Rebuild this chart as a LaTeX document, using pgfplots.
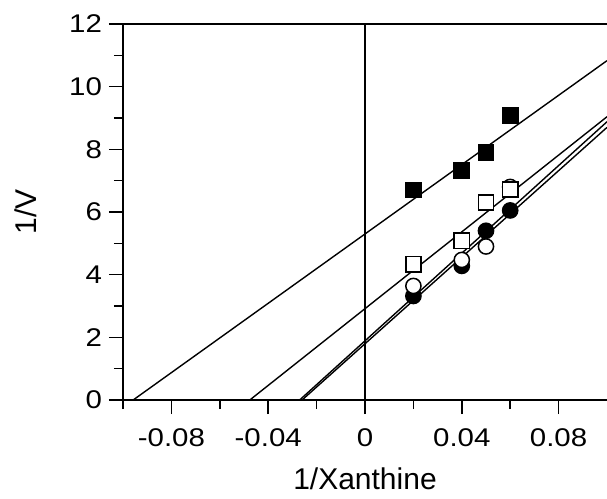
\documentclass[border=0pt]{standalone}
\usepackage{fontspec}
\setmainfont{Liberation Sans}
\newfontfamily\wide[FakeStretch=1.15]{Liberation Sans}
\usepackage{pgfplots}
\pgfplotsset{compat=1.18}

\begin{document}
\begin{tikzpicture}
\useasboundingbox (-61.5pt,-49.5pt) rectangle (242pt,200pt);

\begin{axis}[
  at={(0,0)}, anchor=south west,
  width=242pt, height=188pt,
  scale only axis,
  xmin=-0.1, xmax=0.1,
  ymin=0, ymax=12,
  axis x line*=bottom,
  axis y line*=left,
  axis line style={line width=0.75pt},
  every tick/.style={black, line width=0.75pt},
  tick align=outside,
  major tick length=7pt,
  minor tick length=4.5pt,
  xtick={-0.08,-0.04,0,0.04,0.08},
  xticklabels={-0.08,-0.04,0,0.04,0.08},
  minor xtick={-0.1,-0.06,-0.02,0.02,0.06},
  ytick={0,2,4,6,8,10,12},
  minor ytick={1,3,5,7,9,11},
  /pgf/number format/assume math mode=true,
  tick label style={font=\wide\fontsize{12.8}{15}\selectfont},
  xticklabel style={yshift=-4pt},
  xlabel={1/Xanthine},
  ylabel={1/V},
  every axis x label/.style={at={(rel axis cs:0.5,0)}, yshift=-44.5pt, anchor=base,
    font=\fontsize{15}{18}\selectfont},
  every axis y label/.style={at={(rel axis cs:0,0.5)}, xshift=-43pt, rotate=90, anchor=base,
    font=\fontsize{15}{18}\selectfont},
  clip=false,
]
% reference lines: top border and x = 0
\draw[line width=0.75pt] (axis cs:-0.1,12) -- (axis cs:0.1,12);
\draw[line width=0.75pt] (axis cs:0,0) -- (axis cs:0,12);

% fitted lines
\addplot[black, line width=0.7pt, mark=none] coordinates {(-0.0958,0) (0.1,10.83)};
\addplot[black, line width=0.7pt, mark=none] coordinates {(-0.0476,0) (0.1,9.04)};
\addplot[black, line width=0.7pt, mark=none] coordinates {(-0.0270,0) (0.1,8.88)};
\addplot[black, line width=0.7pt, mark=none] coordinates {(-0.0260,0) (0.1,8.70)};

% data points
\addplot[only marks, mark=*, mark size=3.8pt, mark options={fill=black, draw=black, line width=0.75pt}]
  coordinates {(0.02,3.32) (0.04,4.28) (0.05,5.40) (0.06,6.05)};
\addplot[only marks, mark=*, mark size=3.8pt, mark options={fill=white, draw=black, line width=0.75pt}]
  coordinates {(0.02,3.64) (0.04,4.47) (0.05,4.90) (0.06,6.80)};
\addplot[only marks, mark=square*, mark size=3.8pt, mark options={fill=white, draw=black, line width=0.75pt}]
  coordinates {(0.02,4.33) (0.04,5.08) (0.05,6.30) (0.06,6.72)};
\addplot[only marks, mark=square*, mark size=3.8pt, mark options={fill=black, draw=black, line width=0.75pt}]
  coordinates {(0.02,6.70) (0.04,7.33) (0.05,7.90) (0.06,9.07)};
\end{axis}
\end{tikzpicture}
\end{document}
